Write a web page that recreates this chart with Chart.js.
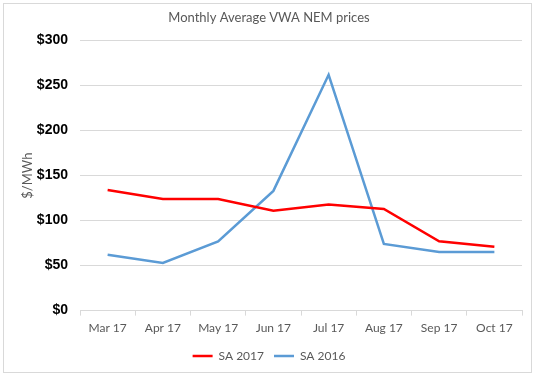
<!DOCTYPE html>
<html lang="en">
<head>
    <meta charset="UTF-8">
    <title>Monthly Average VWA NEM prices</title>
    <script src="https://cdn.jsdelivr.net/npm/chart.js"></script>
    <style>
        body { margin: 0; background: #fff; }
        #wrap { position: relative; width: 536px; height: 376px; }
        #frame {
            position: absolute; left: 3px; top: 3px; width: 527px; height: 368px;
            border: 1px solid #d9d9d9; pointer-events: none;
        }
        canvas { position: absolute; left: 0; top: 0; }
    </style>
</head>
<body>
    <div id="wrap">
        <canvas id="nemChart" width="536" height="376"></canvas>
        <div id="frame"></div>
    </div>

    <script>
        // values ($/MWh)
        const months = ['Mar 17', 'Apr 17', 'May 17', 'Jun 17', 'Jul 17', 'Aug 17', 'Sep 17', 'Oct 17'];
        const sa2017 = [134, 124, 124, 111, 118, 113, 77, 71];
        const sa2016 = [62, 53, 77, 133, 262, 74, 65, 65];
        const yTicks = [0, 50, 100, 150, 200, 250, 300];

        const grey = '#595959';
        const gridGrey = '#d9d9d9';

        const ctx = document.getElementById('nemChart').getContext('2d');
        new Chart(ctx, {
            type: 'line',
            data: {
                labels: months,
                datasets: [
                    {
                        label: 'SA 2017',
                        data: sa2017,
                        borderColor: '#ff0000',
                        backgroundColor: '#ff0000',
                        borderWidth: 2.5,
                        pointRadius: 0,
                        pointStyle: 'line',
                        tension: 0
                    },
                    {
                        label: 'SA 2016',
                        data: sa2016,
                        borderColor: '#5b9bd5',
                        backgroundColor: '#5b9bd5',
                        borderWidth: 2.5,
                        pointRadius: 0,
                        pointStyle: 'line',
                        tension: 0
                    }
                ]
            },
            options: {
                responsive: false,
                animation: false,
                layout: { padding: { left: 16, right: 14, top: 0, bottom: 4 } },
                plugins: {
                    title: {
                        display: true,
                        text: 'Monthly Average VWA NEM prices',
                        color: grey,
                        font: { family: 'Lato', size: 13, weight: 'normal' },
                        padding: { top: 10, bottom: 15 }
                    },
                    legend: {
                        position: 'bottom',
                        labels: {
                            usePointStyle: true,
                            pointStyleWidth: 20,
                            color: grey,
                            font: { family: 'Lato', size: 12 },
                            padding: 10
                        }
                    },
                    tooltip: { enabled: false }
                },
                scales: {
                    x: {
                        offset: true,
                        grid: {
                            offset: true,
                            drawOnChartArea: false,
                            drawTicks: true,
                            tickLength: 5,
                            color: gridGrey
                        },
                        border: { color: gridGrey },
                        ticks: {
                            color: grey,
                            font: { family: 'Lato', size: 12 },
                            maxRotation: 0,
                            padding: 5
                        }
                    },
                    y: {
                        min: 0,
                        max: 300,
                        afterBuildTicks: scale => {
                            scale.ticks = yTicks.map(v => ({ value: v }));
                        },
                        afterFit: scale => { scale.width = 64; },
                        grid: { color: gridGrey, drawTicks: false },
                        border: { display: false },
                        ticks: {
                            color: '#000',
                            font: { family: 'Liberation Sans', size: 14, weight: 'bold' },
                            padding: 12,
                            callback: v => '$' + v
                        },
                        title: {
                            display: true,
                            text: '$/MWh',
                            color: grey,
                            font: { family: 'Lato', size: 13 },
                            padding: { top: 4, bottom: 4 }
                        }
                    }
                }
            }
        });
    </script>
</body>
</html>
